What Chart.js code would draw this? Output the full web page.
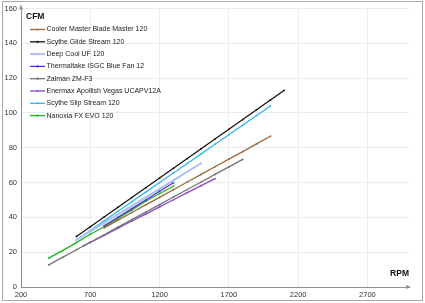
<!DOCTYPE html>
<html>
<head>
<meta charset="utf-8">
<script src="https://cdn.jsdelivr.net/npm/chart.js@4/dist/chart.umd.min.js"></script>
<style>
  html, body { margin: 0; padding: 0; background: #fff; }
  #wrap { position: relative; width: 425px; height: 303px; }
</style>
</head>
<body>
<div id="wrap"><canvas id="fanChart" width="425" height="303"></canvas></div>
<script>
"use strict";

// --- data (RPM -> CFM) ---
const seriesNames = [
    "Cooler Master Blade Master 120",
    "Scythe Glide Stream 120",
    "Deep Cool UF 120",
    "Thermaltake ISGC Blue Fan 12",
    "Zalman ZM-F3",
    "Enermax Apollish Vegas UCAPV12A",
    "Scythe Slip Stream 120",
    "Nanoxia FX EVO 120"
];
const seriesColors = ["#9a6a3c", "#141414", "#a9c0f2", "#4b34d2", "#747474", "#8a48cc", "#36b6ee", "#22b022"];

const coolerRpm = [800, 900, 1000, 1100, 1200, 1300, 1400, 1500, 1600, 1700, 1800, 1900, 2000];
const coolerCfm = [34.0, 38.4, 42.8, 47.2, 51.5, 55.9, 60.3, 64.7, 69.1, 73.5, 77.8, 82.2, 86.6];

const glideRpm = [600, 700, 800, 900, 1000, 1100, 1200, 1300, 1400, 1500, 1600, 1700, 1800, 1900, 2000, 2100];
const glideCfm = [29.0, 34.6, 40.2, 45.8, 51.4, 57.0, 62.6, 68.2, 73.8, 79.4, 85.0, 90.6, 96.2, 101.8, 107.4, 113.0];

const deepCoolRpm = [600, 700, 800, 900, 1000, 1100, 1200, 1300, 1400, 1500];
const deepCoolCfm = [27.0, 31.9, 36.8, 41.7, 46.6, 51.5, 56.4, 61.3, 66.2, 71.1];

const thermalRpm = [800, 900, 1000, 1100, 1200, 1300];
const thermalCfm = [35.2, 40.1, 45.0, 50.0, 55.0, 59.9];

const zalmanRpm = [400, 500, 600, 700, 800, 900, 1000, 1100, 1200, 1300, 1400, 1500, 1600, 1700, 1800];
const zalmanCfm = [12.7, 17.0, 21.4, 25.7, 30.0, 34.4, 38.7, 43.0, 47.3, 51.7, 56.0, 60.3, 64.7, 69.0, 73.3];

const enermaxRpm = [650, 700, 800, 900, 1000, 1100, 1200, 1300, 1400, 1500, 1600];
const enermaxCfm = [23.6, 25.6, 29.7, 33.8, 37.9, 41.9, 46.0, 50.1, 54.2, 58.2, 62.3];

const slipRpm = [600, 700, 800, 900, 1000, 1100, 1200, 1300, 1400, 1500, 1600, 1700, 1800, 1900, 2000];
const slipCfm = [27.0, 32.5, 38.0, 43.5, 49.0, 54.5, 60.0, 65.5, 71.0, 76.5, 82.0, 87.5, 93.0, 98.5, 104.0];

const nanoxiaRpm = [400, 500, 600, 700, 800, 900, 1000, 1100, 1200, 1300];
const nanoxiaCfm = [16.6, 20.9, 25.5, 30.3, 34.6, 39.4, 44.2, 49.3, 53.7, 57.9];

const xTicks = [200, 700, 1200, 1700, 2200, 2700];
const yTicks = [0, 20, 40, 60, 80, 100, 120, 140, 160];

const FONT = "'Liberation Sans', Arial, sans-serif";

function toPoints(xs, ys) {
    return xs.map((x, i) => ({ x: x, y: ys[i] }));
}

const seriesData = [
    toPoints(coolerRpm, coolerCfm),
    toPoints(glideRpm, glideCfm),
    toPoints(deepCoolRpm, deepCoolCfm),
    toPoints(thermalRpm, thermalCfm),
    toPoints(zalmanRpm, zalmanCfm),
    toPoints(enermaxRpm, enermaxCfm),
    toPoints(slipRpm, slipCfm),
    toPoints(nanoxiaRpm, nanoxiaCfm)
];

const datasets = seriesNames.map((name, i) => ({
    label: name,
    data: seriesData[i],
    borderColor: seriesColors[i],
    backgroundColor: seriesColors[i],
    borderWidth: i === 2 ? 2 : 1.3,
    pointRadius: 0.9,
    pointBorderWidth: 0,
    showLine: true,
    tension: 0
}));

// frame, axis arrows, axis names and legend
const decorPlugin = {
    id: "decor",
    afterDraw(chart) {
        const ctx = chart.ctx;
        const area = chart.chartArea;
        ctx.save();

        // outer frame
        ctx.strokeStyle = "#a8a8a8";
        ctx.lineWidth = 1;
        ctx.strokeRect(2.5, 1.5, 420, 299);

        // arrows
        ctx.fillStyle = "#909090";
        ctx.beginPath();
        ctx.moveTo(area.left, area.top - 4);
        ctx.lineTo(area.left - 2, area.top + 1);
        ctx.lineTo(area.left + 2, area.top + 1);
        ctx.closePath();
        ctx.fill();
        ctx.beginPath();
        ctx.moveTo(area.right + 2, area.bottom);
        ctx.lineTo(area.right - 3, area.bottom - 2);
        ctx.lineTo(area.right - 3, area.bottom + 2);
        ctx.closePath();
        ctx.fill();

        // axis names
        ctx.fillStyle = "#111";
        ctx.font = "bold 8.5px " + FONT;
        ctx.textBaseline = "middle";
        ctx.textAlign = "left";
        ctx.fillText("CFM", 26, 17);
        ctx.textAlign = "right";
        ctx.fillText("RPM", 409, 274);

        // legend
        ctx.font = "7px " + FONT;
        ctx.textAlign = "left";
        chart.data.datasets.forEach((ds, i) => {
            const y = 29.5 + i * 12.3;
            ctx.strokeStyle = ds.borderColor;
            ctx.lineWidth = ds.borderWidth;
            ctx.beginPath();
            ctx.moveTo(30, y);
            ctx.lineTo(45, y);
            ctx.stroke();
            ctx.fillStyle = ds.borderColor;
            ctx.beginPath();
            ctx.arc(37.5, y, 1.1, 0, Math.PI * 2);
            ctx.fill();
            ctx.fillStyle = "#222";
            ctx.fillText(ds.label, 46.5, y);
        });
        ctx.restore();
    }
};

new Chart(document.getElementById("fanChart"), {
    type: "scatter",
    data: { datasets },
    options: {
        responsive: false,
        animation: false,
        layout: { padding: { top: 5, right: 16, left: 0, bottom: 0 } },
        plugins: {
            legend: { display: false },
            tooltip: { enabled: false }
        },
        scales: {
            x: {
                type: "linear",
                min: 200,
                max: 3000,
                afterBuildTicks: (scale) => { scale.ticks = xTicks.map(v => ({ value: v })); },
                afterFit: (scale) => { scale.height = 16; },
                ticks: { color: "#333", font: { family: FONT, size: 7.5 }, padding: 3, maxRotation: 0, callback: (v) => String(v) },
                grid: { color: "#ececec", drawTicks: false },
                border: { color: "#909090" }
            },
            y: {
                min: 0,
                max: 160,
                afterBuildTicks: (scale) => { scale.ticks = yTicks.map(v => ({ value: v })); },
                afterFit: (scale) => { scale.width = 21; },
                ticks: { color: "#333", font: { family: FONT, size: 7.5 }, padding: 4, callback: (v) => String(v) },
                grid: { color: "#ececec", drawTicks: false },
                border: { color: "#909090" }
            }
        }
    },
    plugins: [decorPlugin]
});
</script>
</body>
</html>
